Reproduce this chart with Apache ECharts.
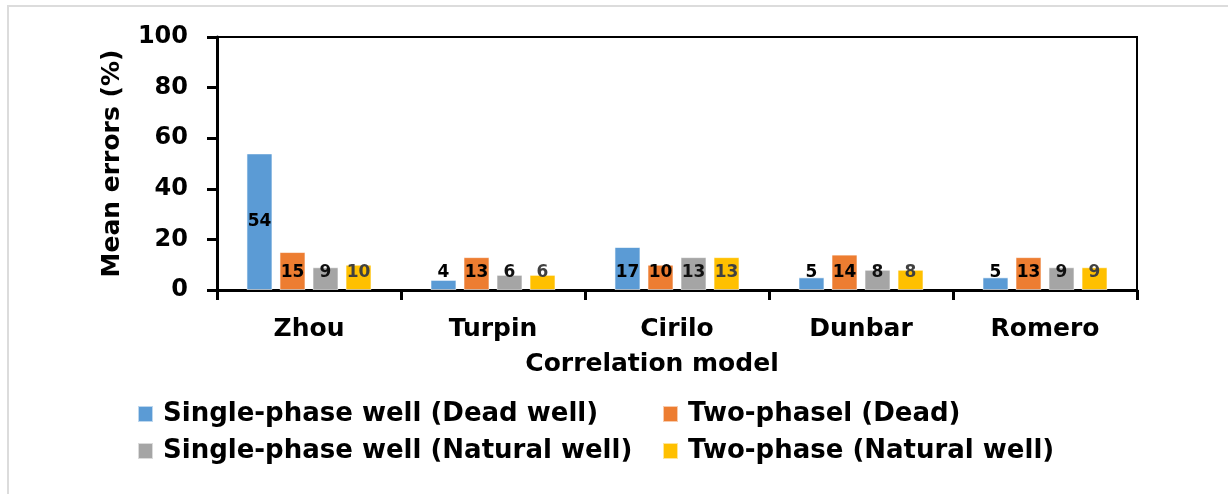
<!DOCTYPE html>
<html>
<head>
<meta charset="utf-8">
<script src="https://cdn.jsdelivr.net/npm/echarts@6/dist/echarts.min.js"></script>
<style>
html,body{margin:0;padding:0;background:#fff;}
#chart{width:1228px;height:494px;}
</style>
</head>
<body>
<div id="chart"></div>
<script>
const categories = ['Zhou', 'Turpin', 'Cirilo', 'Dunbar', 'Romero'];
const seriesNames = ['Single-phase well (Dead well)', 'Two-phasel (Dead)', 'Single-phase well (Natural well)', 'Two-phase (Natural well)'];
const singleDead = [54, 4, 17, 5, 5];
const twoDead = [15, 13, 10, 14, 13];
const singleNatural = [9, 6, 13, 8, 9];
const twoNatural = [10, 6, 13, 8, 9];
const yTicks = [0, 20, 40, 60, 80, 100];

const colors = ['#5B9BD5', '#ED7D31', '#A5A5A5', '#FFC000'];
const labelColors = ['#000', '#000', '#111', '#404040'];
const FONT = '"DejaVu Sans", "Liberation Sans", Arial, sans-serif';

function makeSeries(name, values, idx) {
  return {
    name: name,
    type: 'bar',
    barWidth: 26,
    barGap: '27%',
    itemStyle: { color: colors[idx], borderColor: 'rgba(255,255,255,0.6)', borderWidth: 1 },
    label: {
      show: true,
      position: 'insideBottom',
      distance: 9,
      fontFamily: FONT,
      fontWeight: 'bold',
      fontSize: 17,
      color: labelColors[idx]
    },
    data: values.map(v => v > 30 ? { value: v, label: { position: 'inside' } } : v)
  };
}

const legendText = { fontFamily: FONT, fontWeight: 'bold', fontSize: 26, color: '#000', lineHeight: 28, padding: [0, 0, 0, 5] };

const chart = echarts.init(document.getElementById('chart'), null, { renderer: 'canvas' });
chart.setOption({
  animation: false,
  backgroundColor: '#fff',
  color: colors,
  graphic: [{
    type: 'rect',
    shape: { x: 8, y: 6, width: 1400, height: 700 },
    style: { fill: 'none', stroke: '#dcdcdc', lineWidth: 2 },
    silent: true
  }],
  grid: { left: 217, right: 91, top: 37, bottom: 204, show: true, borderColor: '#000', borderWidth: 2, containLabel: false },
  legend: [{
    data: [seriesNames[0], seriesNames[2]],
    orient: 'vertical',
    left: 137,
    top: 400,
    padding: 0,
    itemWidth: 15,
    itemHeight: 16,
    itemGap: 9,
    icon: 'rect',
    textStyle: legendText
  }, {
    data: [seriesNames[1], seriesNames[3]],
    orient: 'vertical',
    left: 662,
    top: 400,
    padding: 0,
    itemWidth: 15,
    itemHeight: 16,
    itemGap: 9,
    icon: 'rect',
    textStyle: legendText
  }],
  xAxis: {
    type: 'category',
    data: categories,
    name: 'Correlation model',
    nameLocation: 'middle',
    nameGap: 62,
    nameTextStyle: { fontFamily: FONT, fontWeight: 'bold', fontSize: 25, color: '#000', padding: [0, 50, 0, 0] },
    axisLine: { lineStyle: { color: '#000', width: 3 } },
    axisTick: { show: true, alignWithLabel: false, length: 10, lineStyle: { color: '#000', width: 3 } },
    axisLabel: { margin: 27, fontFamily: FONT, fontWeight: 'bold', fontSize: 25, color: '#000' },
    splitLine: { show: false }
  },
  yAxis: {
    type: 'value',
    min: yTicks[0],
    max: yTicks[yTicks.length - 1],
    interval: yTicks[1] - yTicks[0],
    name: 'Mean errors (%)',
    nameLocation: 'middle',
    nameGap: 92,
    nameRotate: 90,
    nameTextStyle: { fontFamily: FONT, fontWeight: 'bold', fontSize: 25, color: '#000' },
    axisLine: { show: true, lineStyle: { color: '#000', width: 3 } },
    axisTick: { show: true, length: 10, lineStyle: { color: '#000', width: 3 } },
    axisLabel: { margin: 29, fontFamily: FONT, fontWeight: 'bold', fontSize: 24, color: '#000' },
    splitLine: { show: false }
  },
  series: [
    makeSeries(seriesNames[0], singleDead, 0),
    makeSeries(seriesNames[1], twoDead, 1),
    makeSeries(seriesNames[2], singleNatural, 2),
    makeSeries(seriesNames[3], twoNatural, 3)
  ]
});
</script>
</body>
</html>
